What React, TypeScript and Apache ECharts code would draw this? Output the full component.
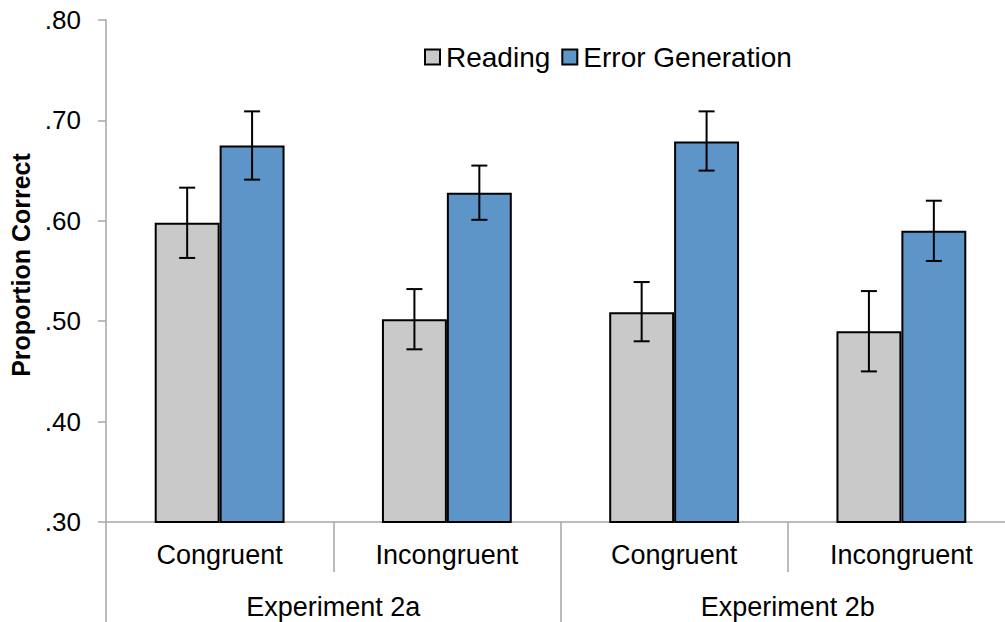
import React, { useEffect, useRef } from "react";
import * as echarts from "echarts";

const conditions = ["Congruent", "Incongruent", "Congruent", "Incongruent"];
const experiments = ["Experiment 2a", "Experiment 2b"];
const seriesNames = ["Reading", "Error Generation"];
const readingValues = [0.598, 0.502, 0.509, 0.49];
const readingLow = [0.563, 0.472, 0.48, 0.45];
const readingHigh = [0.633, 0.532, 0.539, 0.53];
const errorGenValues = [0.675, 0.628, 0.679, 0.59];
const errorGenLow = [0.641, 0.601, 0.65, 0.56];
const errorGenHigh = [0.709, 0.655, 0.709, 0.62];
const yTicks = [0.3, 0.4, 0.5, 0.6, 0.7, 0.8];

const FONT = "'Liberation Sans', Arial, Helvetica, sans-serif";
const AXIS_COLOR = "#a6a6a6";
const BAR_FRAC = 0.2857;

function errorSeries(name: string, low: number[], high: number[], side: number) {
  return {
    type: "custom",
    name: name + " error",
    xAxisIndex: 0,
    yAxisIndex: 0,
    silent: true,
    z: 10,
    data: low.map((l, i) => [i, l, high[i]]),
    renderItem: (params: any, api: any) => {
      const idx = api.value(0);
      const lo = api.coord([idx, api.value(1)]);
      const hi = api.coord([idx, api.value(2)]);
      const band = api.size([1, 0])[0];
      const x = lo[0] + side * band * BAR_FRAC * 0.5;
      const cap = 8;
      const style = { stroke: "#000", lineWidth: 2 };
      return {
        type: "group",
        children: [
          { type: "line", shape: { x1: x, y1: lo[1], x2: x, y2: hi[1] }, style },
          { type: "line", shape: { x1: x - cap, y1: lo[1], x2: x + cap, y2: lo[1] }, style },
          { type: "line", shape: { x1: x - cap, y1: hi[1], x2: x + cap, y2: hi[1] }, style },
        ],
      };
    },
  };
}

export default function App() {
  const ref = useRef<HTMLDivElement>(null);
  useEffect(() => {
    if (!ref.current) return;
    const chart = echarts.init(ref.current, undefined, { renderer: "svg" });
    chart.setOption({
      animation: false,
      backgroundColor: "#ffffff",
      textStyle: { fontFamily: FONT },
      grid: { left: 106, top: 20, height: 502, right: 0, containLabel: false },
      legend: {
        left: 419,
        top: 38,
        itemWidth: 15,
        itemHeight: 15,
        itemGap: 11,
        icon: "rect",
        data: seriesNames,
        textStyle: { fontSize: 28, color: "#000", fontFamily: FONT, padding: [0, 0, 0, 1] },
      },
      xAxis: [
        {
          type: "category",
          data: conditions,
          position: "bottom",
          axisLine: { show: true, lineStyle: { color: AXIS_COLOR, width: 1.5 } },
          axisTick: { show: true, length: 50, lineStyle: { color: AXIS_COLOR, width: 1.5 } },
          axisLabel: { fontSize: 27, color: "#000", margin: 19, fontFamily: FONT },
          splitLine: { show: false },
        },
        {
          type: "category",
          data: experiments,
          position: "bottom",
          offset: 50,
          axisLine: { show: false },
          axisTick: { show: true, length: 50, lineStyle: { color: AXIS_COLOR, width: 1.5 } },
          axisLabel: { fontSize: 27, color: "#000", margin: 21, fontFamily: FONT },
          splitLine: { show: false },
        },
      ],
      yAxis: {
        type: "value",
        min: yTicks[0],
        max: yTicks[yTicks.length - 1],
        interval: 0.1,
        name: "Proportion Correct",
        nameLocation: "middle",
        nameRotate: 90,
        nameGap: 73,
        nameTextStyle: {
          fontSize: 25,
          fontWeight: "bold",
          color: "#000",
          fontFamily: FONT,
          padding: [0, 0, 0, 12],
        },
        axisLine: { show: true, lineStyle: { color: AXIS_COLOR, width: 1.5 } },
        axisTick: { show: true, length: 8, lineStyle: { color: AXIS_COLOR, width: 1.5 } },
        axisLabel: {
          fontSize: 26,
          color: "#000",
          margin: 25,
          fontFamily: FONT,
          formatter: (v: number) => v.toFixed(2).replace(/^0/, ""),
        },
        splitLine: { show: false },
      },
      series: [
        {
          type: "bar",
          name: seriesNames[0],
          data: readingValues,
          barWidth: (BAR_FRAC * 100).toFixed(2) + "%",
          barGap: "0%",
          itemStyle: { color: "#c9c9c9", borderColor: "#000", borderWidth: 2 },
        },
        {
          type: "bar",
          name: seriesNames[1],
          data: errorGenValues,
          barWidth: (BAR_FRAC * 100).toFixed(2) + "%",
          barGap: "0%",
          itemStyle: { color: "#5e95c9", borderColor: "#000", borderWidth: 2 },
        },
        errorSeries(seriesNames[0], readingLow, readingHigh, -1),
        errorSeries(seriesNames[1], errorGenLow, errorGenHigh, 1),
      ],
    });
    return () => chart.dispose();
  }, []);
  return (
    <div
      ref={ref}
      style={{ position: "fixed", left: 0, top: 0, width: 1015, height: 622, background: "#fff" }}
    />
  );
}
